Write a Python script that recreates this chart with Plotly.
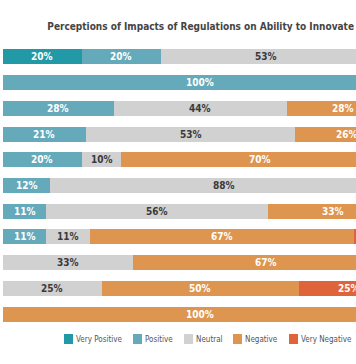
import plotly.graph_objects as go

rows = ["R1", "R2", "R3", "R4", "R5", "R6", "R7", "R8", "R9", "R10", "R11"]
very_positive = [20, 0, 0, 0, 0, 0, 0, 0, 0, 0, 0]
positive = [20, 100, 28, 21, 20, 12, 11, 11, 0, 0, 0]
neutral = [53, 0, 44, 53, 10, 88, 56, 11, 33, 25, 0]
negative = [7, 0, 28, 26, 70, 0, 33, 67, 67, 50, 100]
very_negative = [0, 0, 0, 0, 0, 0, 0, 11, 0, 25, 0]

series_names = ["Very Positive", "Positive", "Neutral", "Negative", "Very Negative"]
series_vals = [very_positive, positive, neutral, negative, very_negative]
colors = ["#2299a6", "#64aabb", "#d1d1d1", "#dd9550", "#e0643a"]
label_colors = ["white", "white", "#3a3a3a", "white", "white"]

FONT = "Liberation Sans Narrow, DejaVu Sans Condensed, Roboto, sans-serif"
XMAX = 89.4

W, H = 356, 364
ML, MR, MT, MB = 3, 0, 44, 37
PW, PH = W - ML - MR, H - MT - MB

fig = go.Figure()
for name, vals, col in zip(series_names, series_vals, colors):
    fig.add_trace(go.Bar(y=rows, x=vals, name=name, orientation="h",
                         marker=dict(color=col, line=dict(width=0)),
                         showlegend=False, hoverinfo="skip"))

annotations = []
for i, r in enumerate(rows):
    start = 0
    for vals, lc in zip(series_vals, label_colors):
        v = vals[i]
        if v > 0:
            c = start + v / 2
            if c < XMAX:
                annotations.append(dict(x=c, y=r, xref="x", yref="y", text=f"<b>{v}%</b>",
                                        showarrow=False, font=dict(family=FONT, size=10, color=lc)))
        start += v

# manual legend
leg_py = 339
leg_items = [(64, "Very Positive"), (133, "Positive"), (184, "Neutral"), (233, "Negative"), (289, "Very Negative")]
shapes = []
for (px, name), col in zip(leg_items, colors):
    x0 = (px - ML) / PW
    x1 = (px + 9 - ML) / PW
    y0 = (H - MB - (leg_py + 5)) / PH
    y1 = (H - MB - (leg_py - 5)) / PH
    shapes.append(dict(type="rect", xref="paper", yref="paper", x0=x0, x1=x1, y0=y0, y1=y1,
                       fillcolor=col, line=dict(width=0)))
    annotations.append(dict(x=(px + 10 - ML) / PW, y=(H - MB - leg_py) / PH, xref="paper", yref="paper",
                            text=name, showarrow=False, xanchor="left", yanchor="middle",
                            font=dict(family=FONT, size=8, color="#555")))

fig.update_layout(
    width=W, height=H,
    margin=dict(l=ML, r=MR, t=MT, b=MB),
    barmode="stack", bargap=0.42,
    plot_bgcolor="white", paper_bgcolor="white",
    title=dict(text="<b>Perceptions of Impacts of Regulations on Ability to Innovate</b>",
               x=354 / W, xref="container", xanchor="right", y=1 - 26 / H, yref="container", yanchor="middle",
               font=dict(family=FONT, size=10, color="#444")),
    xaxis=dict(range=[0, XMAX], visible=False, fixedrange=True),
    yaxis=dict(autorange="reversed", visible=False, fixedrange=True),
    annotations=annotations, shapes=shapes,
)

fig.write_html("out.html", config={"displayModeBar": False},
               post_script="document.body.style.margin='0';")
